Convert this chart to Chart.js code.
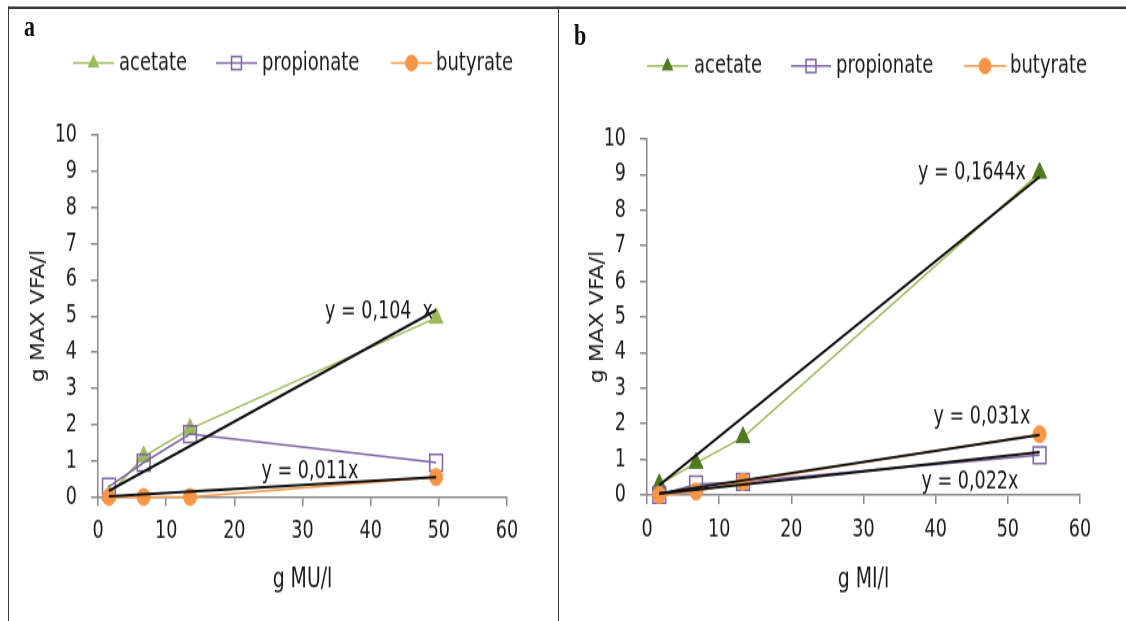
<!DOCTYPE html>
<html>
<head>
<meta charset="utf-8">
<script src="https://cdn.jsdelivr.net/npm/chart.js@4/dist/chart.umd.min.js"></script>
<style>
    body { margin: 0; background: #fff; width: 1126px; height: 621px; overflow: hidden; position: relative; }
    /* the original figure is stretched vertically, so the whole stage is drawn at 478px and scaled up */
    #stage { position: absolute; left: 0; top: 0; width: 1126px; height: 478px; transform: scaleY(1.2992); transform-origin: 0 0; }
    #frameTop { position: absolute; left: 8px; top: 5.4px; right: 0; height: 1.6px; background: #3a3a3a; }
    #frameLeft { position: absolute; left: 8px; top: 5.4px; bottom: 0; width: 1px; background: #3a3a3a; }
    #divider { position: absolute; left: 558px; top: 5.4px; bottom: 0; width: 1px; background: #3a3a3a; }
    canvas { position: absolute; top: 0; }
    #chartA { left: 0; }
    #chartB { left: 559px; }
    .tag { position: absolute; font: bold 22px "Liberation Serif", "DejaVu Serif", serif; color: #111; }
</style>
</head>
<body>
<div id="stage">
    <div id="frameTop"></div>
    <div id="frameLeft"></div>
    <div id="divider"></div>
    <canvas id="chartA" width="558" height="478"></canvas>
    <canvas id="chartB" width="567" height="478"></canvas>
    <div class="tag" style="left:24px; top:8px;">a</div>
    <div class="tag" style="left:574px; top:15px;">b</div>
</div>

<script>
// panel a - x in g MU/l
const xA = [1.6, 6.7, 13.5, 49.6];
const acetateA = [0.05, 1.12, 1.88, 4.95];
const propionateA = [0.28, 0.95, 1.74, 0.95];
const butyrateA = [0.0, 0.0, 0.0, 0.55];
// trendlines a (endpoints)
const trendXA = [1.6, 49.6];
const trendAcetateA = [0.17, 5.16];
const trendButyrateA = [0.02, 0.55];

// panel b - x in g MI/l
const xB = [1.7, 6.8, 13.3, 54.4];
const acetateB = [0.3, 0.9, 1.62, 9.05];
const propionateB = [0.0, 0.3, 0.37, 1.12];
const butyrateB = [0.0, 0.1, 0.37, 1.71];
// trendlines b
const trendXB = [1.7, 54.4];
const trendAcetateB = [0.28, 8.94];
const trendButyrateB = [0.05, 1.69];
const trendPropionateB = [0.04, 1.2];

const xTicks = [0, 10, 20, 30, 40, 50, 60];
const yTicks = [0, 1, 2, 3, 4, 5, 6, 7, 8, 9, 10];
const seriesNames = ['acetate', 'propionate', 'butyrate'];

const FONT = '"DejaVu Sans Condensed", "DejaVu Sans", sans-serif';
Chart.defaults.font.family = FONT;
Chart.defaults.color = '#1a1a1a';

const GREEN = '#9BBB59';
const PURPLE = '#8064A2';
const ORANGE = '#F79646';

function pts(xs, ys) {
    return xs.map((x, i) => ({ x: x, y: ys[i] }));
}

// later series sit on top, like excel does it
function seriesSet(label, xs, ys, color, style, fill, radius, order) {
    return {
        label: label,
        data: pts(xs, ys),
        borderColor: color,
        borderWidth: 1.5,
        pointStyle: style,
        pointRadius: radius,
        pointBackgroundColor: fill,
        pointBorderColor: style == 'rect' ? color : fill,
        pointBorderWidth: style == 'rect' ? 1.5 : 1,
        clip: false,
        order: order
    };
}

function trendSet(xs, ys) {
    return {
        label: 'trend',
        data: pts(xs, ys),
        borderColor: '#111',
        borderWidth: 2,
        pointRadius: 0,
        clip: false,
        order: 0
    };
}

// draws the excel-ish legend (line + marker) and the trendline equations
const extrasPlugin = {
    id: 'extras',
    afterDraw(chart, args, opts) {
        const ctx = chart.ctx;
        ctx.save();
        ctx.textBaseline = 'middle';

        ctx.font = '20px ' + FONT;
        opts.legend.forEach((item, i) => {
            const ds = chart.data.datasets[i];
            const y = opts.legendY;
            ctx.strokeStyle = ds.borderColor;
            ctx.lineWidth = 1.5;
            ctx.beginPath();
            ctx.moveTo(item[0], y);
            ctx.lineTo(item[1], y);
            ctx.stroke();
            ctx.fillStyle = ds.pointBackgroundColor;
            ctx.strokeStyle = ds.pointBorderColor;
            ctx.lineWidth = ds.pointBorderWidth;
            Chart.helpers.drawPoint(ctx, {
                pointStyle: ds.pointStyle,
                radius: ds.pointStyle == 'rect' ? 7 : 6,
                borderWidth: ds.pointBorderWidth
            }, (item[0] + item[1]) / 2, y);
            ctx.fillStyle = '#1a1a1a';
            ctx.textAlign = 'left';
            ctx.fillText(seriesNames[i], item[2], y);
        });

        ctx.font = '19.5px ' + FONT;
        ctx.fillStyle = '#1a1a1a';
        ctx.textAlign = 'center';
        opts.labels.forEach(l => {
            ctx.fillText(l[0], l[1], l[2]);
        });
        ctx.restore();
    }
};

function makeOptions(pad, yWidth, xHeight, xTitle, extras) {
    return {
        responsive: false,
        animation: false,
        layout: { padding: pad },
        plugins: {
            legend: { display: false },
            tooltip: { enabled: false },
            extras: extras
        },
        scales: {
            x: {
                type: 'linear',
                min: 0,
                max: 60,
                afterBuildTicks: s => { s.ticks = xTicks.map(v => ({ value: v })); },
                afterFit: s => { s.height = xHeight; },
                ticks: { font: { size: 19.5 }, padding: 8, maxRotation: 0 },
                grid: { drawOnChartArea: false, drawTicks: true, tickLength: 7, color: '#8a8a8a', lineWidth: 1.5 },
                border: { color: '#8a8a8a', width: 1.5 },
                title: { display: true, text: xTitle, font: { size: 21 }, padding: { top: 4, bottom: 4 } }
            },
            y: {
                type: 'linear',
                min: 0,
                max: 10,
                afterBuildTicks: s => { s.ticks = yTicks.map(v => ({ value: v })); },
                afterFit: s => { s.width = yWidth; },
                ticks: { font: { size: 19.5 }, padding: 14 },
                grid: { drawOnChartArea: false, drawTicks: true, tickLength: 7, color: '#8a8a8a', lineWidth: 1.5 },
                border: { color: '#8a8a8a', width: 1.5 },
                title: { display: true, text: 'g MAX VFA/l', font: { size: 19 }, padding: { top: 4, bottom: 4 } }
            }
        }
    };
}

new Chart(document.getElementById('chartA'), {
    type: 'line',
    data: {
        datasets: [
            seriesSet('acetate', xA, acetateA, GREEN, 'triangle', GREEN, 8, 3),
            seriesSet('propionate', xA, propionateA, PURPLE, 'rect', 'rgba(0,0,0,0)', 9, 2),
            seriesSet('butyrate', xA, butyrateA, ORANGE, 'circle', ORANGE, 6.5, 1),
            trendSet(trendXA, trendAcetateA),
            trendSet(trendXA, trendButyrateA)
        ]
    },
    options: makeOptions({ left: 24, right: 51, top: 104, bottom: 15 }, 74, 80.5, 'g MU/l', {
        legendY: 48.5,
        legend: [[73, 114, 119], [216, 257, 262], [391, 432, 436]],
        labels: [['y = 0,104  x', 379, 240], ['y = 0,011x', 310, 363]]
    }),
    plugins: [extrasPlugin]
});

new Chart(document.getElementById('chartB'), {
    type: 'line',
    data: {
        datasets: [
            seriesSet('acetate', xB, acetateB, GREEN, 'triangle', '#4F7A21', 8, 3),
            seriesSet('propionate', xB, propionateB, PURPLE, 'rect', 'rgba(0,0,0,0)', 9, 2),
            seriesSet('butyrate', xB, butyrateB, ORANGE, 'circle', ORANGE, 6.5, 1),
            trendSet(trendXB, trendAcetateB),
            trendSet(trendXB, trendButyrateB),
            trendSet(trendXB, trendPropionateB)
        ]
    },
    options: makeOptions({ left: 24, right: 46, top: 107, bottom: 15 }, 64, 82, 'g MI/l', {
        legendY: 50.8,
        legend: [[88, 129, 135], [232, 272, 277], [405, 447, 451]],
        labels: [['y = 0,1644x', 413, 133], ['y = 0,031x', 423, 321], ['y = 0,022x', 411, 371]]
    }),
    plugins: [extrasPlugin]
});
</script>
</body>
</html>
